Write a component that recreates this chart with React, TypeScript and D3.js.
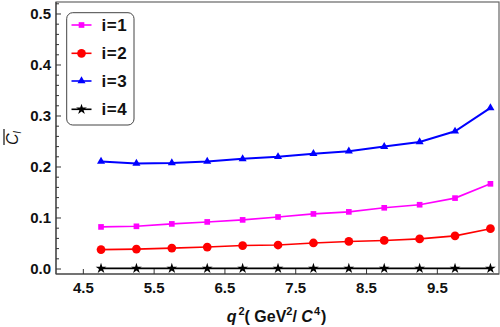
import React from "react";
import * as d3 from "d3";

const q2 = [4.75, 5.25, 5.75, 6.25, 6.75, 7.25, 7.75, 8.25, 8.75, 9.25, 9.75, 10.25];
const c1 = [0.0825, 0.0837, 0.0884, 0.0923, 0.0963, 0.102, 0.108, 0.112, 0.12, 0.126, 0.139, 0.167];
const c2 = [0.038, 0.039, 0.041, 0.043, 0.046, 0.047, 0.051, 0.054, 0.056, 0.059, 0.065, 0.079];
const c3 = [0.211, 0.207, 0.208, 0.211, 0.216, 0.22, 0.226, 0.231, 0.24, 0.249, 0.27, 0.316];
const c4 = [0.0012, 0.0012, 0.0012, 0.0012, 0.0012, 0.0012, 0.0012, 0.0012, 0.0012, 0.0012, 0.0012, 0.0012];
const seriesNames = ["i=1", "i=2", "i=3", "i=4"];
const seriesColors = ["#ff00ff", "#ff0000", "#0000ff", "#000000"];
const xTickValues = [4.5, 5.5, 6.5, 7.5, 8.5, 9.5];
const yMajorTicks = [0, 0.1, 0.2, 0.3, 0.4, 0.5];

const W = 500, H = 327;
const L = 56, R = 499, T = 2, B = 274;

export default function App() {
  const x = d3.scaleLinear().domain([4.114, 10.371]).range([L, R]);
  const y = d3.scaleLinear().domain([-0.0098, 0.5235]).range([B, T]);
  const all = [c1, c2, c3, c4];
  const symbols = [
    { t: d3.symbolSquare, s: 32 },
    { t: d3.symbolCircle, s: 60 },
    { t: d3.symbolTriangle, s: 28 },
    { t: d3.symbolStar, s: 36 },
  ];
  const line = d3.line<number>().x((_, i) => x(q2[i])).y((d) => y(d));
  const minor = d3.range(0, 0.5201, 0.02).filter((v) => Math.abs(v * 10 - Math.round(v * 10)) > 1e-6);
  const font = "'Liberation Sans', Arial, sans-serif";
  const legendY = [25, 53.3, 81, 109.3];

  return (
    <svg width={W} height={H} style={{ position: "absolute", left: 0, top: 0 }} fontFamily={font}>
      <rect x={0} y={0} width={W} height={H} fill="#fff" />
      {/* series */}
      {all.map((s, k) => (
        <g key={k}>
          <path d={line(s) || ""} fill="none" stroke={seriesColors[k]} strokeWidth={k === 2 ? 2 : 1.6} />
          {s.map((v, i) => (
            <path
              key={i}
              d={d3.symbol(symbols[k].t, symbols[k].s)() || ""}
              transform={`translate(${x(q2[i])},${y(v)})`}
              fill={seriesColors[k]}
            />
          ))}
        </g>
      ))}
      {/* frame */}
      <rect x={L} y={T} width={R - L} height={B - T} fill="none" stroke="#666" strokeWidth={1.2} />
      <line x1={L} x2={L} y1={T} y2={B} stroke="#444" strokeWidth={1.2} />
      <line x1={L} x2={R} y1={B} y2={B} stroke="#444" strokeWidth={1.2} />
      {/* y ticks */}
      {yMajorTicks.map((v) => (
        <g key={v}>
          <line x1={L} x2={L + 5} y1={y(v)} y2={y(v)} stroke="#333" strokeWidth={1} />
          <text x={51} y={y(v) + 5.3} textAnchor="end" fontSize={15} fontWeight="bold" fill="#111">
            {v.toFixed(1)}
          </text>
        </g>
      ))}
      {minor.map((v) => (
        <line key={v} x1={L} x2={L + 3} y1={y(v)} y2={y(v)} stroke="#333" strokeWidth={1} />
      ))}
      {/* x ticks */}
      {xTickValues.map((v) => (
        <g key={v}>
          <line x1={x(v)} x2={x(v)} y1={B} y2={B - 5} stroke="#333" strokeWidth={1} />
          <text x={x(v)} y={293} textAnchor="middle" fontSize={15} fontWeight="bold" fill="#111">
            {v.toFixed(1)}
          </text>
        </g>
      ))}
      {/* x label */}
      <text x={276.5} y={322} textAnchor="middle" fontSize={16} fontWeight="bold" fill="#111">
        <tspan fontStyle="italic">q</tspan>
        <tspan dx={2} dy={-7} fontSize={11}>2</tspan>
        <tspan dy={7}>( GeV</tspan>
        <tspan dy={-7} fontSize={11}>2</tspan>
        <tspan dy={7}>/ </tspan>
        <tspan fontStyle="italic">C</tspan>
        <tspan dx={1} dy={-7} fontSize={11}>4</tspan>
        <tspan dx={1} dy={7}>)</tspan>
      </text>
      {/* y label */}
      <g transform="translate(18,145) rotate(-90)">
        <text x={0} y={0} fontSize={16} fontStyle="italic" fill="#111">
          <tspan>C</tspan>
          <tspan dy={3} fontSize={10}>l</tspan>
        </text>
        <line x1={0} x2={16} y1={-14} y2={-14} stroke="#111" strokeWidth={1.2} />
      </g>
      {/* legend */}
      <rect x={66.7} y={12.7} width={67.3} height={112.3} rx={6} ry={6} fill="#fff" stroke="#444" strokeWidth={1} />
      {seriesNames.map((n, k) => (
        <g key={n}>
          <line x1={71.5} x2={91.5} y1={legendY[k]} y2={legendY[k]} stroke={seriesColors[k]} strokeWidth={1.6} />
          <path
            d={d3.symbol(symbols[k].t, symbols[k].s)() || ""}
            transform={`translate(81.5,${legendY[k]})`}
            fill={seriesColors[k]}
          />
          <text x={101.5} y={legendY[k] + 6} fontSize={17} fontWeight="bold" fill="#111" letterSpacing={0.6}>
            {n}
          </text>
        </g>
      ))}
    </svg>
  );
}
